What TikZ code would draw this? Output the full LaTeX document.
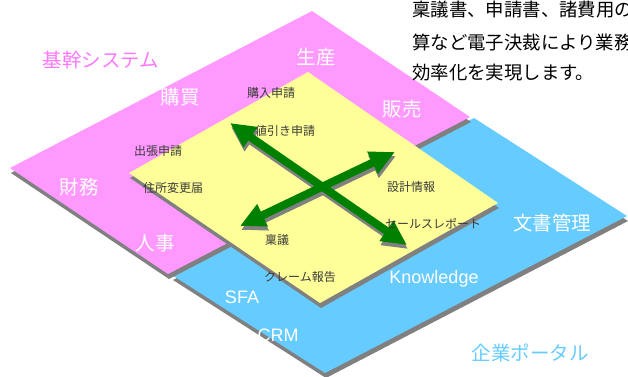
\documentclass[tikz,border=0pt]{standalone}
\usepackage{fontspec}
\setmainfont{Liberation Sans}
\newfontfamily\jp{Noto Sans CJK JP}
\usetikzlibrary{arrows.meta}
\definecolor{pinkc}{HTML}{FF99FF}
\definecolor{bluec}{HTML}{66CCFF}
\definecolor{yelc}{HTML}{FFFF99}
\definecolor{shadc}{HTML}{808080}
\definecolor{greenc}{HTML}{008000}
\definecolor{labc}{HTML}{3A3A3A}
\definecolor{pinktext}{HTML}{FF77FF}
\begin{document}
\begin{tikzpicture}[x=1pt,y=-1pt,
  bigw/.style={font=\jp\fontsize{19.5}{19.5}\selectfont, text=white, inner sep=0pt},
  latw/.style={font=\fontsize{18}{18}\selectfont, text=white, inner sep=0pt},
  smalllab/.style={font=\jp\fontsize{12}{12}\selectfont, text=labc, inner sep=0pt},
  toptext/.style={font=\jp\fontsize{18.4}{18.4}\selectfont, text=black, inner sep=0pt, anchor=west},
  arr/.style={line width=8pt, {Triangle[length=25pt,width=23pt]}-{Triangle[length=25pt,width=23pt]}}]
\useasboundingbox (0,0) rectangle (628,376);
\clip (0,0) rectangle (628,376);
% blue plate (portal)
\fill[shadc, shift={(1,5)}] (172,275) -- (474,118) -- (627,216) -- (325,373) -- cycle;
\fill[bluec] (172,275) -- (474,118) -- (627,216) -- (325,373) -- cycle;
% pink plate (core systems)
\fill[shadc, shift={(1,5)}] (10,168) -- (312,11) -- (470,117) -- (168,274) -- cycle;
\fill[pinkc] (10,168) -- (312,11) -- (470,117) -- (168,274) -- cycle;
% yellow plate
\fill[shadc, shift={(1,5)}] (129,173) -- (308,72) -- (498,203) -- (320,303) -- cycle;
\fill[yelc] (129,173) -- (308,72) -- (498,203) -- (320,303) -- cycle;
% arrows
\coordinate (a1s) at (230,123);
\coordinate (a1e) at (407,245);
\coordinate (a2s) at (240,226);
\coordinate (a2e) at (395,152);
\draw[arr, draw=shadc] ([shift={(1,4)}]a1s) -- ([shift={(1,4)}]a1e);
\draw[arr, draw=shadc] ([shift={(1,4)}]a2s) -- ([shift={(1,4)}]a2e);
\draw[arr, draw=greenc] (a1s) -- (a1e);
\draw[arr, draw=greenc] (a2s) -- (a2e);
% titles
\node[font=\jp\fontsize{19.5}{19.5}\selectfont, text=pinktext, inner sep=0pt] (kikan) at (101,60) {基幹システム};
\node[font=\jp\fontsize{19.5}{19.5}\selectfont, text=bluec, inner sep=0pt] (portal) at (530,353) {企業ポータル};
% white labels
\node[bigw] (seisan) at (316,57) {生産};
\node[bigw] (kobai) at (180,97) {購買};
\node[bigw] (hanbai) at (402,109) {販売};
\node[bigw] (zaimu) at (79,187) {財務};
\node[bigw] (jinji) at (155,243) {人事};
\node[bigw] (bunsho) at (552,223) {文書管理};
\node[latw] (know) at (434,279) {Knowledge};
\node[latw] (sfa) at (242,297) {SFA};
\node[latw] (crm) at (278,335) {CRM};
% small labels
\node[smalllab] (l1) at (271,93) {購入申請};
\node[smalllab] (l2) at (285,131) {値引き申請};
\node[smalllab] (l3) at (158,151) {出張申請};
\node[smalllab] (l4) at (173,188) {住所変更届};
\node[smalllab] (l5) at (411,187) {設計情報};
\node[smalllab] (l6) at (433,224) {セールスレポート};
\node[smalllab] (l7) at (277,240) {稟議};
\node[smalllab] (l8) at (300,277) {クレーム報告};
% top right text
\node[toptext] (t1) at (412,10) {稟議書、申請書、諸費用の};
\node[toptext] (t2) at (412,42) {算など電子決裁により業務};
\node[toptext] (t3) at (412,73) {効率化を実現します。};
\end{tikzpicture}
\end{document}
